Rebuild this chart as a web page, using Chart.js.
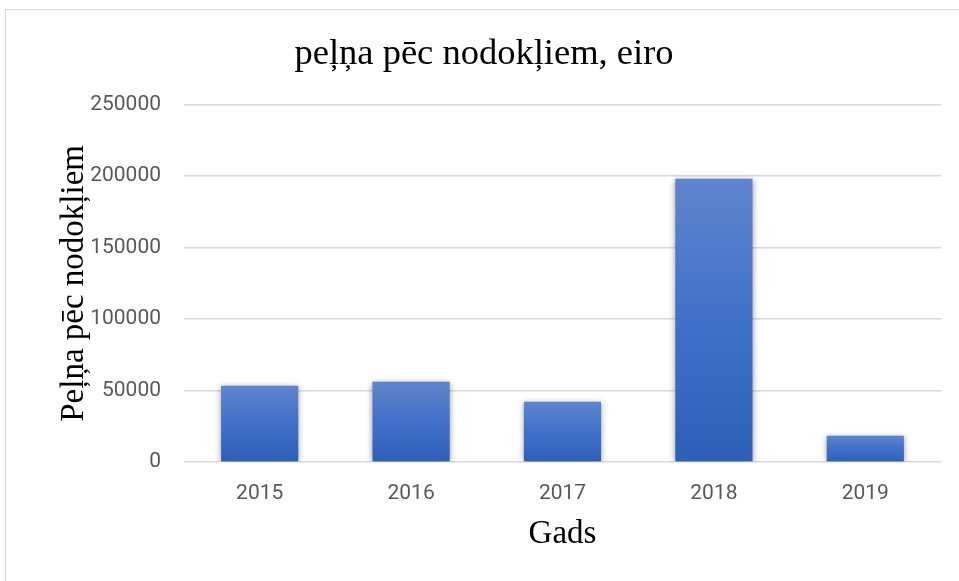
<!DOCTYPE html>
<html>
<head>
<meta charset="utf-8">
<script src="https://cdn.jsdelivr.net/npm/chart.js@4"></script>
<style>
  html, body { margin: 0; padding: 0; background: #fff; }
  #wrap { width: 959px; height: 581px; }
</style>
</head>
<body>
<div id="wrap"><canvas id="profitChart"></canvas></div>
<script>
// -------------------------------
// DATA
// -------------------------------
const years = ["2015", "2016", "2017", "2018", "2019"];
const profit = [53300, 56200, 42100, 198200, 18400];
const yTicks = [0, 50000, 100000, 150000, 200000, 250000];

const serif = "'Liberation Serif', 'Times New Roman', serif";
const sans = "'Roboto', 'Liberation Sans', sans-serif";

// -------------------------------
// HELPERS
// -------------------------------
// each bar gets its own light-to-dark gradient, top to bottom
function barGradient(context) {
    const chart = context.chart;
    const y = chart.scales.y;
    if (!chart.chartArea || !y || context.raw == null) return "#3f6fc6";
    const top = y.getPixelForValue(context.raw);
    const bottom = y.getPixelForValue(0);
    const g = chart.ctx.createLinearGradient(0, top, 0, bottom);
    g.addColorStop(0, "#5f85cd");
    g.addColorStop(0.5, "#4170c8");
    g.addColorStop(1, "#2e5fb7");
    return g;
}

// light frame round the chart, like the office chart box
const framePlugin = {
    id: "frame",
    beforeDraw(chart) {
        const ctx = chart.ctx;
        ctx.save();
        ctx.strokeStyle = "#d9d9d9";
        ctx.lineWidth = 1;
        ctx.strokeRect(5.5, 9.5, 1200, 1200);
        ctx.restore();
    }
};

// soft shadow round the bars
const shadowPlugin = {
    id: "barShadow",
    beforeDatasetDraw(chart) {
        const ctx = chart.ctx;
        ctx.save();
        ctx.shadowColor = "rgba(0,0,0,0.4)";
        ctx.shadowBlur = 6;
        ctx.shadowOffsetY = 1;
    },
    afterDatasetDraw(chart) {
        chart.ctx.restore();
    }
};

// -------------------------------
// CHART
// -------------------------------
new Chart(document.getElementById("profitChart"), {
    type: "bar",
    data: {
        labels: years,
        datasets: [{
            label: "Peļņa pēc nodokļiem",
            data: profit,
            backgroundColor: barGradient,
            borderWidth: 0,
            barPercentage: 0.51,
            categoryPercentage: 1
        }]
    },
    options: {
        responsive: true,
        maintainAspectRatio: false,
        animation: false,
        layout: { padding: { top: 0, right: 0, bottom: 18, left: 9 } },
        plugins: {
            legend: { display: false },
            tooltip: { enabled: false },
            title: {
                display: true,
                text: "peļņa pēc nodokļiem, eiro",
                color: "#000",
                font: { family: serif, size: 36.5, weight: "normal" },
                padding: { top: 33, bottom: 28 }
            }
        },
        scales: {
            x: {
                afterFit(scale) { scale.height = 101; },
                grid: { display: false },
                border: { display: false },
                ticks: {
                    color: "#595959",
                    font: { family: sans, size: 21 },
                    padding: 11
                },
                title: {
                    display: true,
                    text: "Gads",
                    color: "#000",
                    font: { family: serif, size: 33 },
                    padding: { top: 0, bottom: 9 }
                }
            },
            y: {
                min: 0,
                max: 250000,
                afterBuildTicks(scale) {
                    scale.ticks = yTicks.map(v => ({ value: v }));
                },
                afterFit(scale) { scale.width = 175; },
                grid: { color: "#d9d9d9", lineWidth: 1.5, drawTicks: false },
                border: { display: false },
                ticks: {
                    color: "#595959",
                    font: { family: sans, size: 21 },
                    padding: 23,
                    callback: v => String(v)
                },
                title: {
                    display: true,
                    text: "Peļņa pēc nodokļiem",
                    color: "#000",
                    font: { family: serif, size: 33 },
                    padding: { top: 46, bottom: 0 }
                }
            },
            // empty right-hand strip so the plot stops short of the edge
            yRight: {
                position: "right",
                display: true,
                afterFit(scale) { scale.width = 18; },
                grid: { display: false },
                border: { display: false },
                ticks: { display: false }
            }
        }
    },
    plugins: [framePlugin, shadowPlugin]
});
</script>
</body>
</html>
